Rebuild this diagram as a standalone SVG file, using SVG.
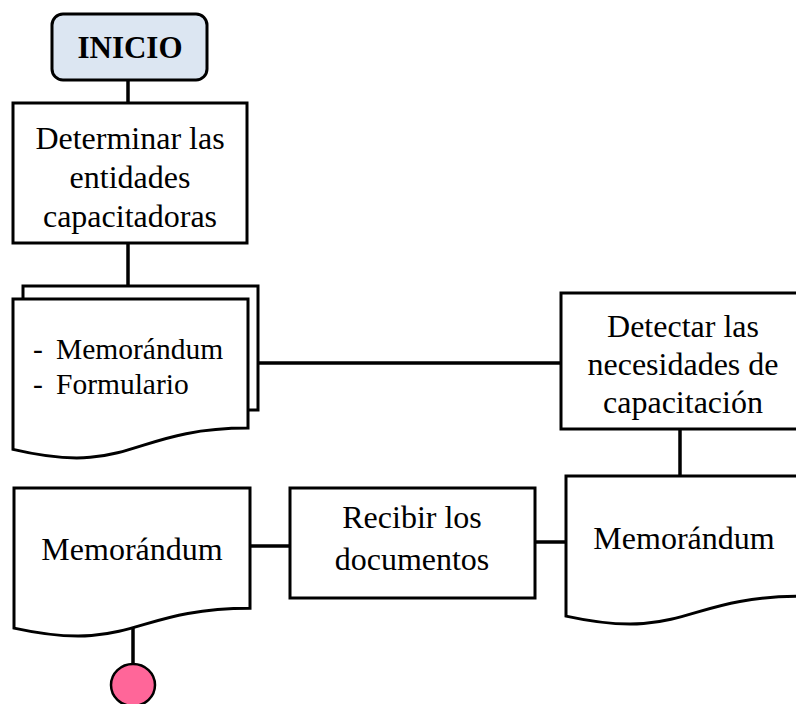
<svg xmlns="http://www.w3.org/2000/svg" width="796" height="704" viewBox="0 0 796 704">
  <style>
    .shape { fill: #ffffff; stroke: #000000; stroke-width: 3; }
    .link { fill: none; stroke: #000000; stroke-width: 3.5; }
    .label { font-family: "Liberation Serif", "Times New Roman", serif; font-size: 32px; fill: #000000; text-anchor: middle; }
    .list { font-family: "Liberation Serif", "Times New Roman", serif; font-size: 29.5px; fill: #000000; }
    .title { font-family: "Liberation Serif", "Times New Roman", serif; font-size: 31px; font-weight: bold; fill: #000000; text-anchor: middle; }
  </style>
  <rect width="796" height="704" fill="#ffffff"/>

  <!-- connectors -->
  <g id="connectors">
    <line class="link" x1="128" y1="80" x2="128" y2="103"/>
    <line class="link" x1="128" y1="243" x2="128" y2="286"/>
    <line class="link" x1="258" y1="363" x2="561" y2="363"/>
    <line class="link" x1="680" y1="429" x2="680" y2="476"/>
    <line class="link" x1="535" y1="542" x2="566" y2="542"/>
    <line class="link" x1="250" y1="546" x2="290" y2="546"/>
    <line class="link" x1="133" y1="620" x2="133" y2="664"/>
  </g>

  <!-- start terminator -->
  <g id="inicio">
    <rect x="52" y="14" width="155" height="66" rx="11" ry="11" fill="#dce6f2" stroke="#000000" stroke-width="3"/>
    <text class="title" x="130" y="58">INICIO</text>
  </g>

  <!-- process: determinar entidades -->
  <g id="determinar">
    <rect class="shape" x="13" y="103" width="234" height="140"/>
    <text class="label" x="130" y="149">Determinar las</text>
    <text class="label" x="130" y="188">entidades</text>
    <text class="label" x="130" y="227">capacitadoras</text>
  </g>

  <!-- multi-document: memorándum + formulario -->
  <g id="documentos-entidades">
    <rect class="shape" x="23" y="286" width="235" height="124"/>
    <path class="shape" d="M13,299 H248 V428.1 C130.5,428.1 130.5,477.2 13,449.4 Z"/>
    <text class="list" x="33" y="359">-</text>
    <text class="list" x="56" y="359">Memorándum</text>
    <text class="list" x="33" y="394">-</text>
    <text class="list" x="56" y="394">Formulario</text>
  </g>

  <!-- process: detectar necesidades -->
  <g id="detectar">
    <rect class="shape" x="561" y="293" width="242" height="136"/>
    <text class="label" x="683" y="337">Detectar las</text>
    <text class="label" x="683" y="375">necesidades de</text>
    <text class="label" x="683" y="413">capacitación</text>
  </g>

  <!-- document: memorándum (right) -->
  <g id="memorandum-derecha">
    <path class="shape" d="M566,476 H802 V596.3 C684,596.3 684,642 566,616.1 Z"/>
    <text class="label" x="684" y="549">Memorándum</text>
  </g>

  <!-- process: recibir documentos -->
  <g id="recibir">
    <rect class="shape" x="290" y="488" width="245" height="110"/>
    <text class="label" x="412" y="528">Recibir los</text>
    <text class="label" x="412" y="570">documentos</text>
  </g>

  <!-- document: memorándum (left) -->
  <g id="memorandum-izquierda">
    <path class="shape" d="M14,488 H250 V608.3 C132,608.3 132,654 14,628.1 Z"/>
    <text class="label" x="132" y="560">Memorándum</text>
  </g>

  <!-- off-page connector -->
  <g id="conector">
    <ellipse cx="133" cy="685" rx="22" ry="21" fill="#ff6699" stroke="#000000" stroke-width="2.5"/>
  </g>
</svg>
